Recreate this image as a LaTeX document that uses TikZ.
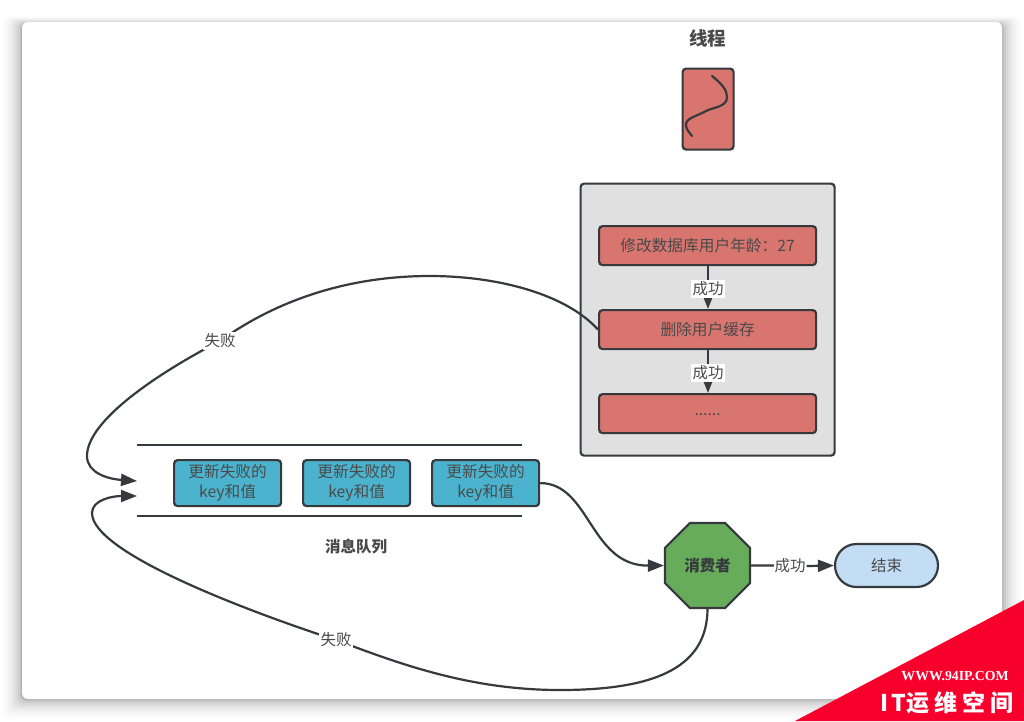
\documentclass[tikz,border=0pt]{standalone}
\usepackage{fontspec}
\setmainfont{Noto Sans CJK SC}
\newfontfamily\wmserif[Scale=1]{Liberation Serif}
\usetikzlibrary{arrows.meta,shapes.geometric,shapes.misc}
\definecolor{linec}{HTML}{363A3E}
\definecolor{txtc}{HTML}{4A4A4A}
\definecolor{redb}{HTML}{D8756F}
\definecolor{grayb}{HTML}{E0E0E0}
\definecolor{blueb}{HTML}{4BB3CE}
\definecolor{greenb}{HTML}{67AC5B}
\definecolor{lightb}{HTML}{C3DDF5}
\definecolor{wmred}{HTML}{F8002C}
\tikzset{
  x=1pt,y=-1pt,
  boxline/.style={draw=linec,line width=2.2pt,rounded corners=3.5pt,inner sep=0pt,align=center,text=txtc,font=\fontsize{15.7}{20}\selectfont},
  redbox/.style={boxline,fill=redb,minimum width=217pt,minimum height=39pt,anchor=north west},
  bluebox/.style={boxline,fill=blueb,minimum width=107pt,minimum height=46pt,anchor=north west},
  conn/.style={draw=linec,line width=2.2pt,-{Triangle[length=16pt,width=12pt]}},
  plainconn/.style={draw=linec,line width=2.2pt},
  lbl/.style={fill=white,inner sep=1.5pt,text=txtc,font=\fontsize{15.5}{17}\selectfont},
  title/.style={inner sep=0pt,text=txtc,font=\fontsize{15.5}{18}\selectfont\bfseries},
}
\begin{document}
\begin{tikzpicture}
\useasboundingbox (0,0) rectangle (1024,721);
\fill[white] (0,0) rectangle (1024,721);
% card shadow
\foreach \d/\o in {20/0.008,18/0.01,16/0.012,14/0.015,12/0.02,10/0.025,8/0.03,6/0.035,4/0.045,2/0.06,1/0.07}{
  \fill[black,opacity=\o,rounded corners=6pt] (22-\d,22-\d*0.4+2) rectangle (1002+\d,699+\d);
}
\fill[white,rounded corners=6pt] (22,22) rectangle (1002,699);
% thread
\node[title] (threadtitle) at (707.5,38) {\fontsize{18.5}{20}\selectfont 线程};
\node[boxline,fill=redb,minimum width=51pt,minimum height=81pt,anchor=north west] (thread) at (681.5,67.5) {};
\draw[draw=linec,line width=2.2pt,line cap=round] (712,76) .. controls (722,84) and (727,90) .. (727,97) .. controls (727,107) and (714,107) .. (706,111) .. controls (695,117) and (686,118) .. (686,125) .. controls (686,129) and (689,132) .. (692,136);
% container
\node[boxline,fill=grayb,minimum width=254pt,minimum height=272pt,anchor=north west] (group) at (579.5,182.5) {};
\node[redbox] (update) at (598,225) {修改数据库用户年龄：27};
\node[redbox] (delete) at (598,309) {删除用户缓存};
\node[redbox] (more) at (598,393) {\raisebox{-3pt}{......}};
\node[lbl] (ok1) at (708,289) {成功};
\node[lbl] (ok2) at (708,373) {成功};
\draw[conn] (update.south -| ok1) -- (delete.north -| ok1);
\draw[conn] (delete.south -| ok2) -- (more.north -| ok2);
\node[lbl] at (708,289) {成功};
\node[lbl] at (708,373) {成功};
% queue
\coordinate (q1a) at (137,445); \coordinate (q1b) at (522,445);
\coordinate (q2a) at (137,516); \coordinate (q2b) at (522,516);
\draw[plainconn] (q1a) -- (q1b);
\draw[plainconn] (q2a) -- (q2b);
\node[bluebox] (m1) at (173,459) {更新失败的\\key和值};
\node[bluebox] (m2) at (302,459) {更新失败的\\key和值};
\node[bluebox] (m3) at (431,459) {更新失败的\\key和值};
\node[title] (qtitle) at (356,547) {消息队列};
\coordinate (in1) at (137,481);
\coordinate (in2) at (137,496);
% consumer
\node[regular polygon,regular polygon sides=8,draw=linec,line width=2.2pt,fill=greenb,inner sep=0pt,minimum size=92pt,text=linec,font=\fontsize{15.5}{18}\selectfont\bfseries] (cons) at (707.5,565.5) {消费者};
\node[draw=linec,line width=2.2pt,fill=lightb,rounded rectangle,minimum width=103pt,minimum height=43pt,inner sep=0pt,text=txtc,font=\fontsize{15.5}{18}\selectfont] (end) at (886.5,565.5) {结束};
% connectors
\draw[conn] (m3.east) .. controls (590,483) and (590,566) .. (cons.west);
\draw[plainconn] (cons.east) -- (775,565.5);
\node[lbl,inner sep=1pt] (ok3) at (790,566) {成功};
\draw[conn] (ok3.east) -- (end.west);
% fail 1
\node[lbl] (fail1) at (220,341) {失败};
\draw[conn] (delete.west) .. controls (565,293) and (495,276) .. (430,276)
  .. controls (340,276) and (270,305) .. (fail1.center)
  .. controls (160,372) and (87,420) .. (87,456)
  .. controls (87,473) and (108,479) .. (in1);
\node[lbl] at (220,341) {失败};
% fail 2
\node[lbl] (fail2) at (336,640) {失败};
\draw[conn] (cons.south) .. controls (707,665) and (660,690) .. (560,690)
  .. controls (470,690) and (400,664) .. (fail2.center)
  .. controls (250,612) and (92,553) .. (92,513)
  .. controls (92,500) and (112,496) .. (in2);
\node[lbl] at (336,640) {失败};
% watermark
\fill[wmred] (795,721) -- (1024,600) -- (1024,721) -- cycle;
\node[inner sep=0pt,text=white,font=\wmserif\bfseries\fontsize{13.8}{15}\selectfont] (wm1) at (955,676) {WWW.94IP.COM};
\node[inner sep=0pt,text=white,font=\fontsize{23}{26}\selectfont\bfseries] (wm2) at (947,703) {I\hspace{3pt}T\hspace{1pt}运\hspace{5pt}维\hspace{5pt}空\hspace{5pt}间};
\end{tikzpicture}
\end{document}
